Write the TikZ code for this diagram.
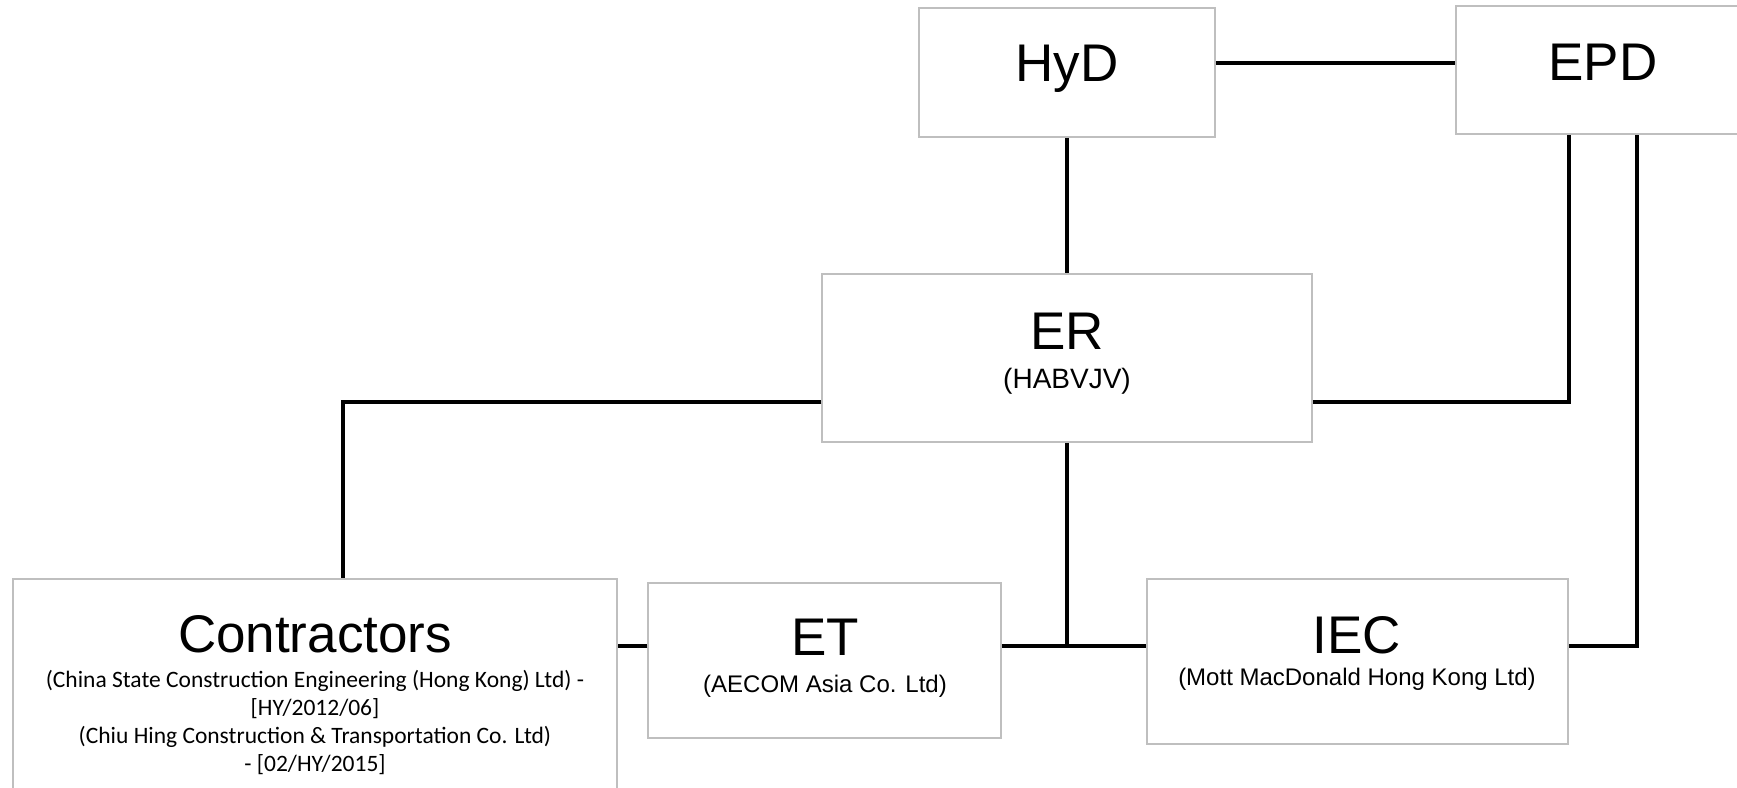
\documentclass[tikz,border=0pt]{standalone}
\usepackage{fontspec}
\setmainfont{Liberation Sans}
\newfontfamily\calib{Carlito}
\usepackage{tikz}
\usepackage{xcolor}
\definecolor{boxgray}{HTML}{BFBFBF}
\tikzset{box/.style={draw=boxgray, line width=1.5pt, fill=white, inner sep=0pt},
 link/.style={draw=black, line width=3.5pt},
 big/.style={font=\fontsize{53}{60}\selectfont, inner sep=0pt, anchor=base},
 small/.style={font=\fontsize{24}{28}\selectfont, inner sep=0pt, anchor=base},
 note/.style={font=\calib\fontsize{23.5}{27.7}\selectfont, inner sep=0pt, anchor=base, align=center},
 }

\begin{document}
\begin{tikzpicture}[x=1pt, y=-1pt]
        \clip (0,0) rectangle (1737,787);
        \fill[white] (0,0) rectangle (1737,787);
        % boxes
        \node[box, minimum width=296pt, minimum height=129pt] (hyd) at (1067,72.5) {};
        \node[box, minimum width=295pt, minimum height=128pt] (epd) at (1603.5,70) {};
        \node[box, minimum width=490pt, minimum height=168pt] (er) at (1067,358) {};
        \node[box, minimum width=604pt, minimum height=231pt] (con) at (315,694.5) {};
        \node[box, minimum width=353pt, minimum height=155pt] (et) at (824.5,660.5) {};
        \node[box, minimum width=421pt, minimum height=165pt] (iec) at (1357.5,661.5) {};
        % texts
        \node[big] (hydt) at (1067,81) {HyD};
        \node[big] (epdt) at (1603,80) {EPD};
        \node[big] (ert) at (1067,349) {ER};
        \node[small, font=\fontsize{28}{32}\selectfont] (ers) at (1067,388) {(HABVJV)};
        \node[big] (ett) at (825,655) {ET};
        \node[small] (ets) at (825,692) {(AECOM Asia Co. Ltd)};
        \node[big] (iect) at (1357,653) {IEC};
        \node[small] (iecs) at (1357,685) {(Mott MacDonald Hong Kong Ltd)};
        \node[big] (cont) at (315,652) {Contractors};
        % base of this one is its last line
        \node[note] (cons) at (315,771) {(China State Construction Engineering (Hong Kong) Ltd) -\\
            {[HY/2012/06]}\\(Chiu Hing Construction \& Transportation Co. Ltd)\\- {[02/HY/2015]}};
        % joints
        \coordinate (etl) at ([yshift=14.5pt]et.west);
        \coordinate (etr) at ([yshift=14.5pt]et.east);
        % connectors
        \draw[link] ([yshift=9.5pt]hyd.east) -- ([yshift=9.5pt]hyd.east -| epd.west);
        \draw[link] (hyd.south) -- (er.north);
        \draw[link] ([yshift=-44pt]er.west) -| ([xshift=28pt]con.north);
        \draw[link] ([yshift=-44pt]er.east) -| ([xshift=-34.5pt]epd.south);
        \draw[link] (er.south) -- (er.south |- etr);
        \draw[link] (etr) -- (etr -| iec.west);
        \draw[link] (etl) -- (etl -| con.east);
        \draw[link] ([yshift=15.5pt]iec.east) -| ([xshift=33.5pt]epd.south);
    \end{tikzpicture}
\end{document}
